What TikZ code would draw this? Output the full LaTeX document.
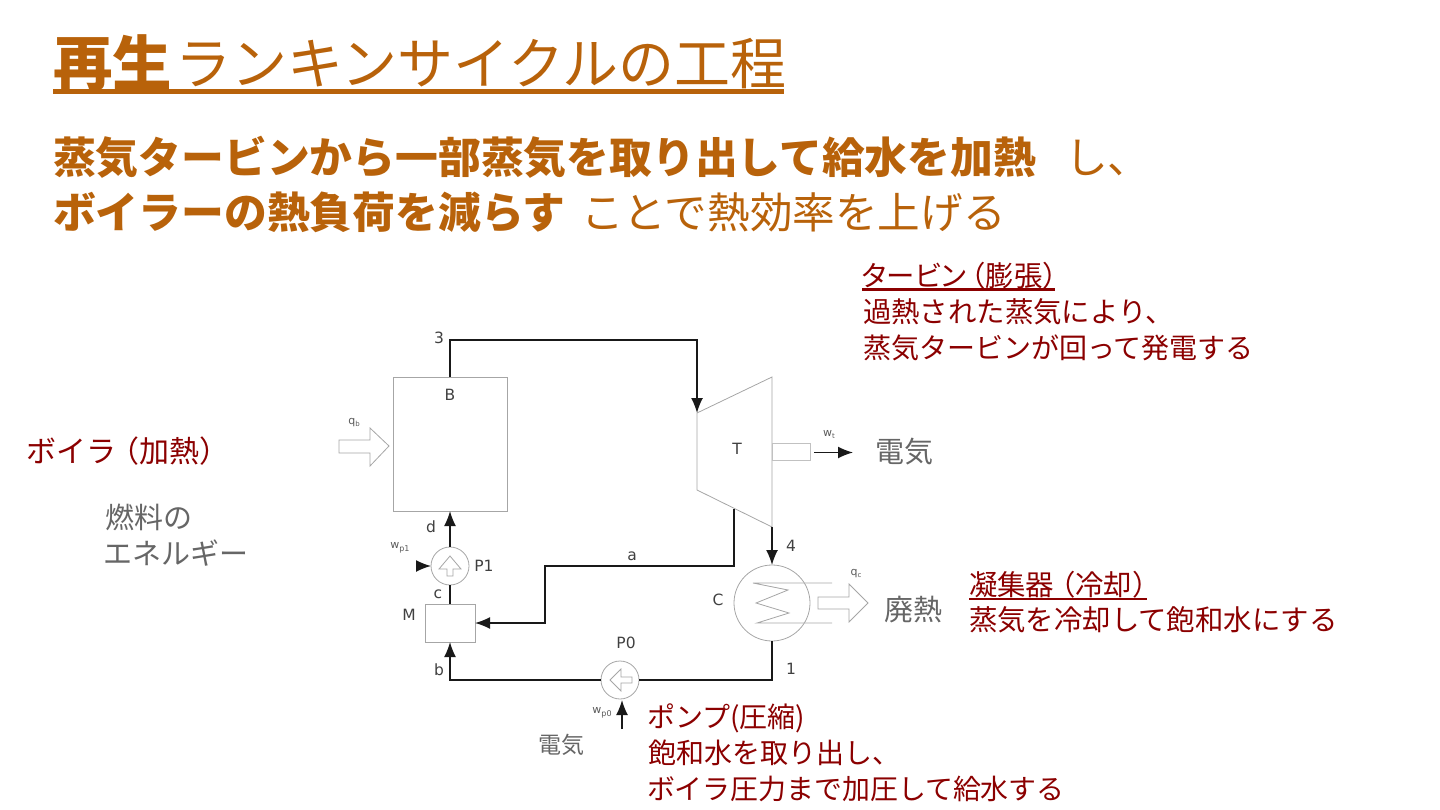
\documentclass[tikz,border=0pt]{standalone}
\usepackage{fontspec}
\usetikzlibrary{arrows.meta}
\setmainfont{Noto Sans CJK JP}
\newfontfamily\lab{DejaVu Sans}
\definecolor{ttl}{HTML}{B8620A}
\definecolor{redt}{HTML}{8B0000}
\definecolor{grayt}{HTML}{666666}
\definecolor{shp}{HTML}{A6A6A6}
\newcommand{\fs}[1]{\fontsize{#1}{#1}\selectfont}
\newcommand{\pal}[1]{{\addfontfeatures{RawFeature=+palt}#1}}
\tikzset{
  txt/.style={anchor=base west,inner sep=0pt,outer sep=0pt},
  ttlstyle/.style={txt,text=ttl,font=\fs{56}},
  substyle/.style={txt,text=ttl,font=\fs{42.8}},
  rd/.style={txt,text=redt,font=\fs{28.4}},
  gy/.style={txt,text=grayt,font=\fs{29}},
  lbl/.style={inner sep=0pt,text=black!75,font=\lab\fs{15.5}},
  sml/.style={inner sep=0pt,text=black!65,font=\lab\fs{11}},
  boxx/.style={draw=shp,line width=1pt,fill=white,inner sep=0pt,outer sep=0pt},
  circ/.style={boxx,circle,line width=.8pt},
  outl/.style={draw=shp,line width=.8pt,fill=white,line join=miter},
  pipe/.style={draw=black!90,line width=1.5pt},
  flow/.style={pipe,-{Latex[length=15pt,width=12pt]}},
}
\begin{document}
\begin{tikzpicture}[x=1pt,y=-1pt]
\useasboundingbox (0,0) rectangle (1440,810);
% title
\node[ttlstyle,font=\fs{59.5}] (t1) at (53,85.5) {\textbf{再生}};
\node[ttlstyle] (t2) at (175,85) {ランキンサイクルの工程};
\fill[ttl] (53,89) rectangle (784,94.5);
\node[substyle] (s1) at (53,174) {\textbf{蒸気タービンから一部蒸気を取り出して給水を加熱}};
\node[substyle] (s2) at (1065,174) {し、};
\node[substyle] (s3) at (53,229) {\textbf{ボイラーの熱負荷を減らす}};
\node[substyle,font=\fs{42.6}] (s4) at (581,229) {ことで熱効率を上げる};
% nodes
\coordinate (Ta) at (697,413);
\coordinate (Tb) at (772,377);
\coordinate (Tc) at (772,527);
\coordinate (Td) at (697,490);
\coordinate (top) at (697,340);
\coordinate (Tout) at (734,509);
\coordinate (a1) at (734,566);
\coordinate (a2) at (545,566);
\coordinate (a3) at (545,623);
\coordinate (cb) at (772,680);
\coordinate (bl) at (450,680);
\draw[outl] (Ta) -- (Tb) -- (Tc) -- (Td) -- cycle;
\node[boxx,minimum width=114pt,minimum height=134pt] (B) at (450,444) {};
\node[boxx,minimum width=50pt,minimum height=38pt] (M) at (450,623) {};
\node[circ,minimum size=38pt] (P1) at (450,566) {};
\node[circ,minimum size=38pt] (P0) at (620,680) {};
\node[boxx,draw=shp!70,minimum width=38pt,minimum height=17pt,line width=.8pt,anchor=west] (S) at (772,452) {};
% coil
\draw[draw=shp,line width=.8pt] (832,583) -- (753,583) -- (788,590) -- (756,603) -- (789,613) -- (757,623) -- (832,623);
\node[circ,fill=none,minimum size=76pt] (C) at (772,603) {};
% pipes
\draw[flow] (B.north) |- (top) -- (Ta);
\draw[flow] (P1.north) -- (B.south);
\draw[pipe] (P1.south) -- (M.north);
\draw[flow] (Tout) -- (a1) -- (a2) -- (a3) -- (M.east);
\draw[flow] (Tc) -- (C.north);
\draw[pipe] (C.south) -- (cb) -- (P0.east);
\draw[flow] (P0.west) -- (bl) -- (M.south);
% work arrows
\coordinate (wt0) at (814,452.5); \coordinate (wt1) at (853,452.5);
\coordinate (wp1) at (416,566);
\coordinate (wp0) at (622,729); \coordinate (wp0t) at (622,700);
\draw[flow] (wt0) -- (wt1);
\draw[flow] (wp1) -- (P1.west);
\draw[flow] (wp0) -- (wp0t);
% block arrows
\draw[outl] (339,440) -- (370,440) -- (370,428) -- (389,446) -- (370,466) -- (370,453) -- (339,453) -- cycle;
\draw[outl] (818,597) -- (849,597) -- (849,584) -- (868,603) -- (849,622) -- (849,609) -- (818,609) -- cycle;
\draw[outl] (450,556) -- (461,569) -- (453,569) -- (453,576) -- (447,576) -- (447,569) -- (439,569) -- cycle;
\draw[outl] (610,680) -- (621,669) -- (621,677) -- (632,677) -- (632,683) -- (621,683) -- (621,691) -- cycle;
% labels
\node[lbl] (l3) at (439,338) {3};
\node[lbl] (lB) at (450,395) {B};
\node[lbl] (ld) at (431,527) {d};
\node[lbl] (lP1) at (484,566) {P1};
\node[lbl] (lc) at (438,594) {c};
\node[lbl] (lM) at (409,615) {M};
\node[lbl] (lb) at (439,670) {b};
\node[lbl] (la) at (632,556) {a};
\node[lbl] (lP0) at (626,643) {P0};
\node[lbl] (lT) at (737,449) {T};
\node[lbl] (l4) at (791,546) {4};
\node[lbl] (lC) at (718,600) {C};
\node[lbl] (l1) at (791,669) {1};
\node[sml] (qb) at (354,423) {q\raisebox{-2pt}{\fs{7}b}};
\node[sml] (wp) at (400,548) {w\raisebox{-3pt}{\fs{8}p1}};
\node[sml] (wz) at (602,713) {w\raisebox{-3pt}{\fs{8}p0}};
\node[sml] (wtl) at (829,434) {w\raisebox{-2pt}{\fs{7}t}};
\node[sml] (qc) at (856,574) {q\raisebox{-2pt}{\fs{7}c}};
% annotations
\node[rd] (r1) at (862,286.5) {\pal{タービン}\kern-.3em（膨張）};
\fill[redt] (862,288.5) rectangle (1055,291);
\node[rd] (r2) at (863,323) {過熱された蒸気により、};
\node[rd,font=\fs{28}] (r3) at (863,358) {蒸気タービンが回って発電する};
\node[rd,font=\fs{30}] (r4) at (27,462) {ボイラ\kern-.25em（加熱）};
\node[rd] (r5) at (969,595.5) {凝集器\kern-.25em（冷却）};
\fill[redt] (969,597.5) rectangle (1147,600);
\node[rd] (r6) at (969,630) {蒸気を冷却して飽和水にする};
\node[rd,font=\fs{28}] (r7) at (647,727) {ポンプ(圧縮)};
\node[rd,font=\fs{28}] (r8) at (648,763) {飽和水を取り出し、};
\node[rd,font=\fs{27.9}] (r9) at (647,799) {ボイラ圧力まで加圧して給水する};
\node[gy] (g1) at (875,462) {電気};
\node[gy] (g2) at (105,528) {燃料の};
\node[gy] (g3) at (103,564) {エネルギー};
\node[gy] (g4) at (884,620.5) {廃熱};
\node[gy,font=\fs{23}] (g5) at (538,753) {電気};
\end{tikzpicture}
\end{document}
